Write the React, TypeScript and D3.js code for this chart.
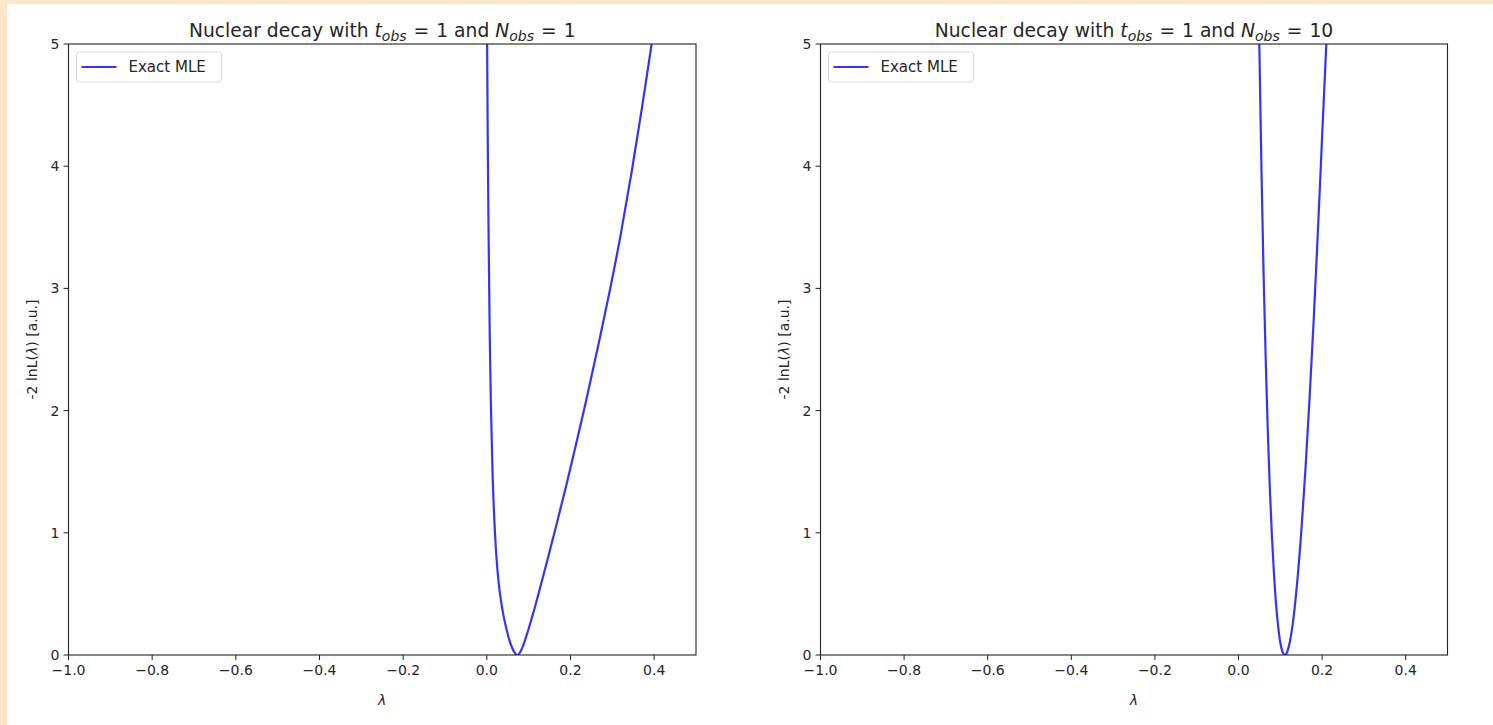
import React from "react";
import * as d3 from "d3";

// ---- data ----
const leftLambda = [0.0007, 0.002, 0.004, 0.007, 0.010, 0.014, 0.018, 0.023, 0.028, 0.034, 0.040, 0.047, 0.054, 0.061, 0.067, 0.073, 0.079, 0.086, 0.094, 0.103, 0.114, 0.125, 0.145, 0.166, 0.19, 0.213, 0.236, 0.268, 0.295, 0.32, 0.346, 0.37, 0.394];
const leftValue = [5.0, 4.3, 3.5, 2.6, 2.0, 1.45, 1.1, 0.8, 0.6, 0.44, 0.32, 0.21, 0.12, 0.055, 0.015, 0.0, 0.02, 0.07, 0.15, 0.25, 0.38, 0.52, 0.78, 1.06, 1.39, 1.72, 2.06, 2.56, 3.0, 3.44, 3.95, 4.46, 5.0];

const rightLambda = [0.0495, 0.055, 0.06, 0.065, 0.07, 0.075, 0.08, 0.085, 0.09, 0.095, 0.1, 0.105, 0.111, 0.117, 0.123, 0.13, 0.14, 0.15, 0.16, 0.17, 0.18, 0.19, 0.2, 0.211];
const rightValue = [5.05, 3.96, 3.12, 2.43, 1.84, 1.36, 0.97, 0.66, 0.41, 0.23, 0.1, 0.03, 0.0, 0.03, 0.11, 0.26, 0.58, 1.0, 1.51, 2.1, 2.75, 3.47, 4.24, 5.07];

const xTicks = [-1.0, -0.8, -0.6, -0.4, -0.2, 0.0, 0.2, 0.4];
const yTicks = [0, 1, 2, 3, 4, 5];
const legendLabel = "Exact MLE";
const titleN = ["1", "10"];

const W = 1493;
const H = 725;
const FONT = "DejaVu Sans, sans-serif";

type PanelProps = { x0: number; x1: number; lam: number[]; val: number[]; n: string; id: string };

function fmt(v: number) {
  const s = Math.abs(v).toFixed(1);
  return (v < -1e-9 ? "\u2212" : "") + s;
}

function Panel({ x0, x1, lam, val, n, id }: PanelProps) {
  const y0 = 655;
  const y1 = 44;
  const xs = d3.scaleLinear().domain([-1, 0.5]).range([x0, x1]);
  const ys = d3.scaleLinear().domain([0, 5]).range([y0, y1]);
  const pts: [number, number][] = lam.map((l, i) => [l, val[i]]);
  const line = d3
    .line<[number, number]>()
    .x((d) => xs(d[0]))
    .y((d) => ys(d[1]))
    .curve(d3.curveMonotoneX);
  const cx = (x0 + x1) / 2;
  const sub = { fontSize: 14 };
  return (
    <g>
      <defs>
        <clipPath id={id}>
          <rect x={x0} y={y1} width={x1 - x0} height={y0 - y1} />
        </clipPath>
      </defs>
      <path d={line(pts) || ""} fill="none" stroke="#0000ff" strokeOpacity={0.8} strokeWidth={2.2} clipPath={`url(#${id})`} />
      <rect x={x0} y={y1} width={x1 - x0} height={y0 - y1} fill="none" stroke="#222" strokeWidth={1.1} />
      {xTicks.map((t) => (
        <g key={t}>
          <line x1={xs(t)} x2={xs(t)} y1={y0} y2={y0 + 5} stroke="#222" strokeWidth={1} />
          <text x={xs(t)} y={y0 + 20} textAnchor="middle" fontSize={14} fill="#262626" fontFamily={FONT}>
            {fmt(t)}
          </text>
        </g>
      ))}
      {yTicks.map((t) => (
        <g key={t}>
          <line x1={x0 - 5} x2={x0} y1={ys(t)} y2={ys(t)} stroke="#222" strokeWidth={1} />
          <text x={x0 - 9} y={ys(t) + 5} textAnchor="end" fontSize={14} fill="#262626" fontFamily={FONT}>
            {t}
          </text>
        </g>
      ))}
      <text x={cx} y={37} textAnchor="middle" fontSize={18.7} fill="#262626" fontFamily={FONT}>
        <tspan>Nuclear decay with </tspan>
        <tspan fontStyle="italic">t</tspan>
        <tspan fontStyle="italic" dy={4} style={sub}>obs</tspan>
        <tspan dy={-4} dx={7}>=</tspan>
        <tspan dx={7}>{"1 and "}</tspan>
        <tspan fontStyle="italic">N</tspan>
        <tspan fontStyle="italic" dy={4} style={sub}>obs</tspan>
        <tspan dy={-4} dx={7}>=</tspan>
        <tspan dx={7}>{n}</tspan>
      </text>
      <text x={cx} y={705} textAnchor="middle" fontSize={14} fontStyle="italic" fill="#262626" fontFamily={FONT}>
        λ
      </text>
      <text
        transform={`translate(${x0 - 32},${(y0 + y1) / 2}) rotate(-90)`}
        textAnchor="middle"
        fontSize={14}
        fill="#262626"
        fontFamily={FONT}
      >
        <tspan>-2 lnL(</tspan>
        <tspan fontStyle="italic">λ</tspan>
        <tspan>) [a.u.]</tspan>
      </text>
      <g>
        <rect x={x0 + 8} y={52} width={145} height={30} rx={3} fill="#fff" stroke="#d6d6d6" strokeWidth={1} />
        <line x1={x0 + 13} x2={x0 + 48} y1={67} y2={67} stroke="#0000ff" strokeOpacity={0.8} strokeWidth={2.2} />
        <text x={x0 + 60} y={72} fontSize={15} fill="#262626" fontFamily={FONT}>
          {legendLabel}
        </text>
      </g>
    </g>
  );
}

export default function App() {
  return (
    <div style={{ position: "absolute", left: 0, top: 0 }}>
      <svg width={W} height={H} style={{ display: "block" }}>
        <rect x={0} y={0} width={W} height={H} fill="#fbe4c8" />
        <rect x={7} y={4} width={W - 7} height={H - 4} fill="#ffffff" />
        <Panel x0={68.5} x1={696} lam={leftLambda} val={leftValue} n={titleN[0]} id="clipL" />
        <Panel x0={820.5} x1={1447.5} lam={rightLambda} val={rightValue} n={titleN[1]} id="clipR" />
      </svg>
    </div>
  );
}
